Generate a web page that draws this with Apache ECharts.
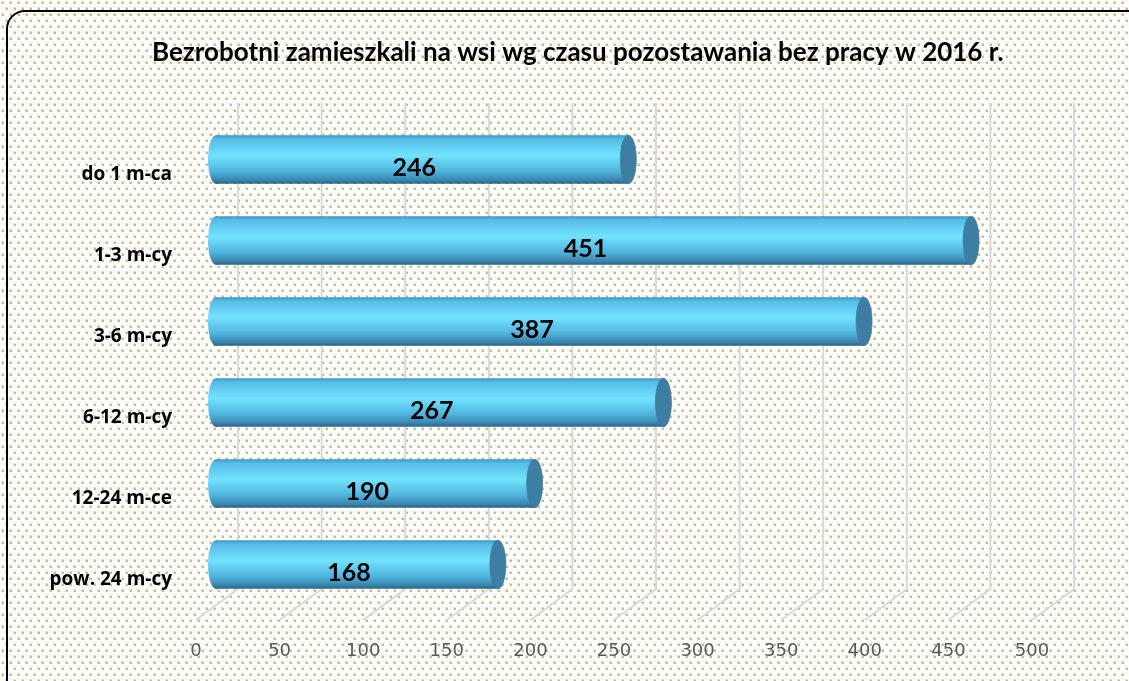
<!DOCTYPE html>
<html>
<head>
<meta charset="utf-8">
<script src="https://cdn.jsdelivr.net/npm/echarts@6/dist/echarts.min.js"></script>
<style>
  html, body { margin: 0; padding: 0; background: #fff; }
  #chart { width: 1129px; height: 681px; }
</style>
</head>
<body>
<div id="chart"></div>
<script>
// data
var categories = ['do 1 m-ca', '1-3 m-cy', '3-6 m-cy', '6-12 m-cy', '12-24 m-ce', 'pow. 24 m-cy'];
var values = [246, 451, 387, 267, 190, 168];
var ticks = [0, 50, 100, 150, 200, 250, 300, 350, 400, 450, 500];

// 3d look: back wall offset and bar depth offset
var backDX = 42, backDY = -31;
var barDX = 21, barDY = -15;
var wallTop = 103;

// dotted background
function dotPattern() {
  var c = document.createElement('canvas');
  c.width = 8; c.height = 12;
  var ctx = c.getContext('2d');
  ctx.fillStyle = '#ffffff';
  ctx.fillRect(0, 0, 8, 12);
  ctx.fillStyle = '#e8e2cb';
  ctx.fillRect(1, 1, 3, 3);
  ctx.fillRect(5, 7, 3, 3);
  ctx.fillStyle = '#c6bb93';
  ctx.fillRect(2, 2, 2, 2);
  ctx.fillRect(6, 8, 2, 2);
  return c;
}

var chart = echarts.init(document.getElementById('chart'));

var barGradient = new echarts.graphic.LinearGradient(0, 0, 0, 1, [
  { offset: 0, color: '#3f94bf' },
  { offset: 0.08, color: '#56bde6' },
  { offset: 0.42, color: '#72e2ff' },
  { offset: 0.75, color: '#4fb3dc' },
  { offset: 0.92, color: '#3a86ad' },
  { offset: 1, color: '#2a6285' }
]);

function renderGrid(params, api) {
  var v = api.value(0);
  var cs = params.coordSys;
  var p = api.coord([v, 0]);
  var yBottom = cs.y + cs.height;
  var x = p[0];
  return {
    type: 'polyline',
    shape: {
      points: [[x, yBottom], [x + backDX, yBottom + backDY], [x + backDX, wallTop]]
    },
    style: { stroke: '#d9d9d9', lineWidth: 2, fill: null },
    silent: true
  };
}

function renderBar(params, api) {
  var v = api.value(0);
  var ci = api.value(1);
  var start = api.coord([0, ci]);
  var end = api.coord([v, ci]);
  var band = api.size([0, 1])[1];
  var h = band * 0.6;
  var cy = start[1] + barDY;
  var x0 = start[0] + barDX - 1;
  var x1 = end[0] + barDX;
  var ry = h / 2, rx = 8;
  return {
    type: 'group',
    children: [
      {
        type: 'circle',
        x: x0, y: cy, scaleX: rx / ry,
        shape: { cx: 0, cy: 0, r: ry },
        style: { fill: barGradient }
      },
      {
        type: 'rect',
        shape: { x: x0, y: cy - ry, width: x1 - x0, height: h },
        style: { fill: barGradient }
      },
      {
        type: 'circle',
        x: x1, y: cy, scaleX: rx / ry,
        shape: { cx: 0, cy: 0, r: ry },
        style: { fill: '#3f7ea3', stroke: '#3a7598', lineWidth: 1 }
      },
      {
        type: 'text',
        x: (x0 + x1) / 2 - 8, y: cy + 8,
        style: {
          text: String(v),
          fill: '#000',
          font: 'bold 25px Lato, "Liberation Sans", sans-serif',
          align: 'center',
          verticalAlign: 'middle'
        }
      }
    ]
  };
}

var option = {
  backgroundColor: { image: dotPattern(), repeat: 'repeat' },
  animation: false,
  title: {
    text: 'Bezrobotni zamieszkali na wsi wg czasu pozostawania bez pracy w 2016 r.',
    left: 147,
    top: 35,
    textStyle: {
      fontFamily: 'Lato, sans-serif',
      fontWeight: 'bold',
      fontSize: 26,
      color: '#000'
    }
  },
  grid: { left: 196, right: 97, top: 134, bottom: 61 },
  xAxis: {
    type: 'value',
    min: 0,
    max: 500,
    interval: 50,
    axisLine: { show: false },
    axisTick: { show: false },
    splitLine: { show: false },
    axisLabel: {
      margin: 22,
      color: '#595959',
      fontFamily: '"DejaVu Sans", sans-serif',
      fontSize: 18
    }
  },
  yAxis: {
    type: 'category',
    inverse: true,
    data: categories,
    axisLine: { show: false },
    axisTick: { show: false },
    axisLabel: {
      margin: 24,
      color: '#000',
      fontFamily: '"Open Sans", sans-serif',
      fontWeight: 'bold',
      fontSize: 19
    }
  },
  graphic: [{
    type: 'rect',
    shape: { x: 7, y: 11, width: 1140, height: 690, r: 18 },
    style: { fill: null, stroke: '#000', lineWidth: 2 },
    silent: true,
    z: 100
  }],
  series: [
    {
      type: 'custom',
      renderItem: renderGrid,
      data: ticks.map(function (t) { return [t]; }),
      encode: { x: 0 },
      z: 1,
      silent: true
    },
    {
      type: 'custom',
      renderItem: renderBar,
      data: values.map(function (v, i) { return [v, i]; }),
      encode: { x: 0, y: 1 },
      z: 2
    }
  ]
};

chart.setOption(option);
</script>
</body>
</html>
